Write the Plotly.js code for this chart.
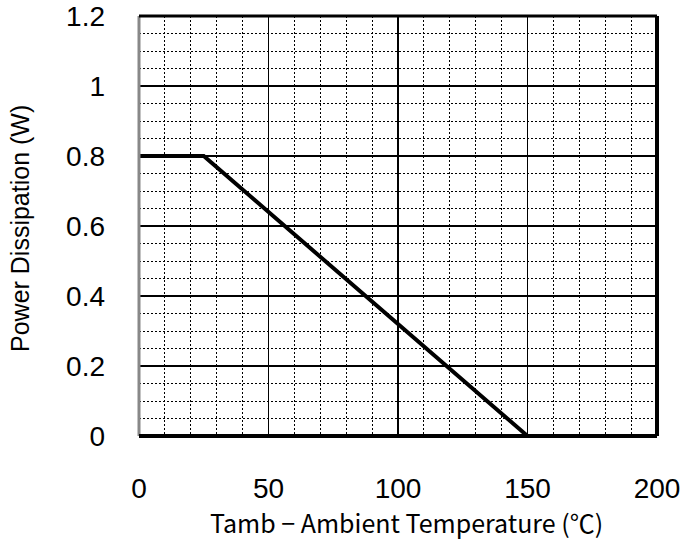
<!DOCTYPE html>
<html><head><meta charset="utf-8">
<script src="https://cdn.plot.ly/plotly-3.0.1.min.js"></script>
<style>body{margin:0;background:#fff}#c{width:685px;height:548px}</style>
</head><body><div id="c"></div>
<script>
var tempC = [0, 25, 150];
var powerW = [0.8, 0.8, 0];
var xTicks = [0, 50, 100, 150, 200];
var yTicks = [0, 0.2, 0.4, 0.6, 0.8, 1, 1.2];
var yTickText = ['0', '0.2', '0.4', '0.6', '0.8', '1', '1.2'];
var xTitle = 'Tamb − Ambient Temperature (℃)';
var yTitle = 'Power Dissipation (W)';

var trace = {x: tempC, y: powerW, mode: 'lines', line: {color: '#000', width: 4}, hoverinfo: 'skip'};
var layout = {
  width: 685, height: 548,
  margin: {l: 139, r: 28, t: 16, b: 112},
  paper_bgcolor: '#fff', plot_bgcolor: '#fff',
  showlegend: false,
  xaxis: {
    range: [0, 200], tickvals: xTicks, ticktext: xTicks.map(String),
    showgrid: true, gridcolor: '#000', gridwidth: 1.5,
    minor: {dtick: 10, showgrid: true, gridcolor: '#000', griddash: '2px,2px', gridwidth: 1},
    zeroline: false, showline: false, ticks: '',
    ticklabelstandoff: 33,
    tickfont: {family: 'Liberation Sans, Arial, sans-serif', size: 28, color: '#000'}
  },
  yaxis: {
    range: [0, 1.2], tickvals: yTicks, ticktext: yTickText,
    showgrid: true, gridcolor: '#000', gridwidth: 1.5,
    minor: {dtick: 0.05, showgrid: true, gridcolor: '#000', griddash: '2px,2px', gridwidth: 1},
    zeroline: false, showline: false, ticks: '',
    ticklabelstandoff: 33,
    tickfont: {family: 'Liberation Sans, Arial, sans-serif', size: 28, color: '#000'}
  },
  annotations: [
    {text: xTitle, xref: 'paper', yref: 'paper', x: 0.5, y: 0, xanchor: 'center', yanchor: 'middle',
     xshift: 8, yshift: -86, showarrow: false,
     font: {family: 'Noto Sans CJK JP, sans-serif', size: 25, color: '#000'}},
    {text: yTitle, xref: 'paper', yref: 'paper', x: 0, y: 0.5, xanchor: 'center', yanchor: 'middle',
     xshift: -119, yshift: -3, textangle: -90, showarrow: false,
     font: {family: 'Liberation Sans, Arial, sans-serif', size: 25, color: '#000'}}
  ],
  shapes: [
    {type: 'line', xref: 'paper', yref: 'paper', x0: 0, x1: 0, y0: 0, y1: 1, line: {color: '#888', width: 3}},
    {type: 'line', xref: 'paper', yref: 'paper', x0: 0, x1: 1, y0: 1, y1: 1, line: {color: '#000', width: 3}},
    {type: 'line', xref: 'paper', yref: 'paper', x0: 1, x1: 1, y0: 0, y1: 1, line: {color: '#000', width: 4}},
    {type: 'line', xref: 'paper', yref: 'paper', x0: 0, x1: 1, y0: 0, y1: 0, line: {color: '#000', width: 4}}
  ]
};
Plotly.newPlot('c', [trace], layout, {staticPlot: true, displayModeBar: false});
</script></body></html>
